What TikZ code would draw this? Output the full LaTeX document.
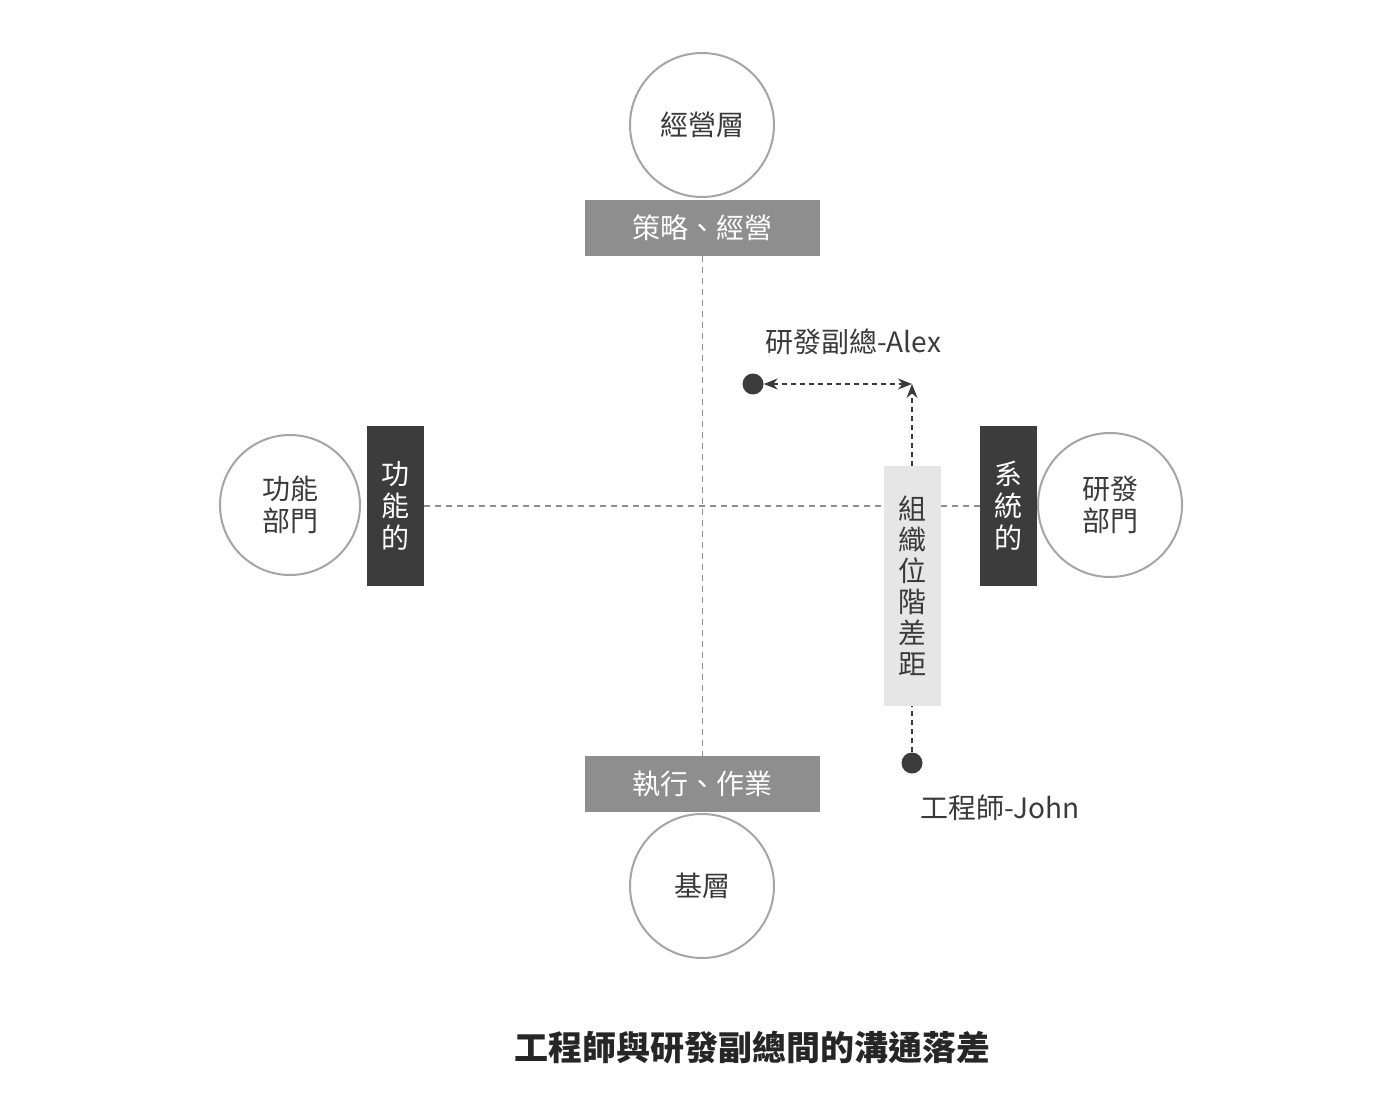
\documentclass[tikz,border=0pt]{standalone}
\usepackage{fontspec}
\setmainfont{Noto Sans CJK TC}
\usetikzlibrary{arrows.meta}
\definecolor{lgray}{HTML}{8E8E8E}
\definecolor{dgray}{HTML}{3C3C3C}
\definecolor{pale}{HTML}{E6E6E6}
\definecolor{txt}{HTML}{3A3A3A}
\begin{document}
\begin{tikzpicture}[x=1pt,y=-1pt,
  circ/.style={circle,draw=lgray!80,line width=2pt,minimum size=144pt,inner sep=0pt,font=\fontsize{28}{32}\selectfont,text=txt,align=center},
  gbox/.style={fill=lgray,minimum width=235pt,minimum height=56pt,inner sep=0pt,text=white,font=\fontsize{28}{32}\selectfont},
  dbox/.style={fill=dgray,minimum width=57pt,minimum height=160pt,inner sep=0pt,text=white,font=\fontsize{28}{32}\selectfont,align=center},
  gdash/.style={draw=lgray,line width=1.5pt,dash pattern=on 6pt off 5pt},
  adash/.style={draw=txt,line width=1.5pt,dash pattern=on 5pt off 4pt},
  dot/.style={circle,fill=dgray,minimum size=21pt,inner sep=0pt},
  lbl/.style={font=\fontsize{28}{32}\selectfont,text=txt}]
\useasboundingbox (0,0) rectangle (1400,1115);
\node[circ] (top) at (702,125) {經營層};
\node[gbox] (tb) at (702.5,228) {策略、經營};
\node[gbox] (bb) at (702.5,784) {執行、作業};
\node[circ] (bot) at (702,886) {基層};
\node[circ,minimum size=140pt] (lc) at (290,505) {功能\\部門};
\node[circ] (rc) at (1110,505) {研發\\部門};
\node[dbox] (ld) at (395.5,506) {功\\能\\的};
\node[dbox] (rd) at (1008.5,506) {系\\統\\的};
\draw[gdash] (tb.south) -- (bb.north);
\draw[gdash] (ld.east) -- (rd.west);
\node[fill=pale,minimum width=57pt,minimum height=240pt,inner sep=0pt,text=txt,font=\fontsize{28}{31}\selectfont,align=center] (gap) at (912.5,586) {組\\織\\位\\階\\差\\距};
\node[dot] (alex) at (753,384) {};
\node[dot] (john) at (912,763) {};
\coordinate (corner) at (912,384);
\draw[adash] (john) -- (john|-gap.south);
\draw[adash,-{Stealth[length=14pt,width=11pt]}] (gap.north-|john) -- (corner);
\draw[adash,{Stealth[length=14pt,width=11pt]}-{Stealth[length=14pt,width=11pt]}] (alex) -- (corner);
\node[lbl] (la) at (853,342) {研發副總-Alex};
\node[lbl] (lj) at (1000,808) {工程師-John};
\node[font=\fontsize{34}{40}\selectfont\bfseries,text=black!85] (cap) at (752,1048) {工程師與研發副總間的溝通落差};
\end{tikzpicture}
\end{document}
